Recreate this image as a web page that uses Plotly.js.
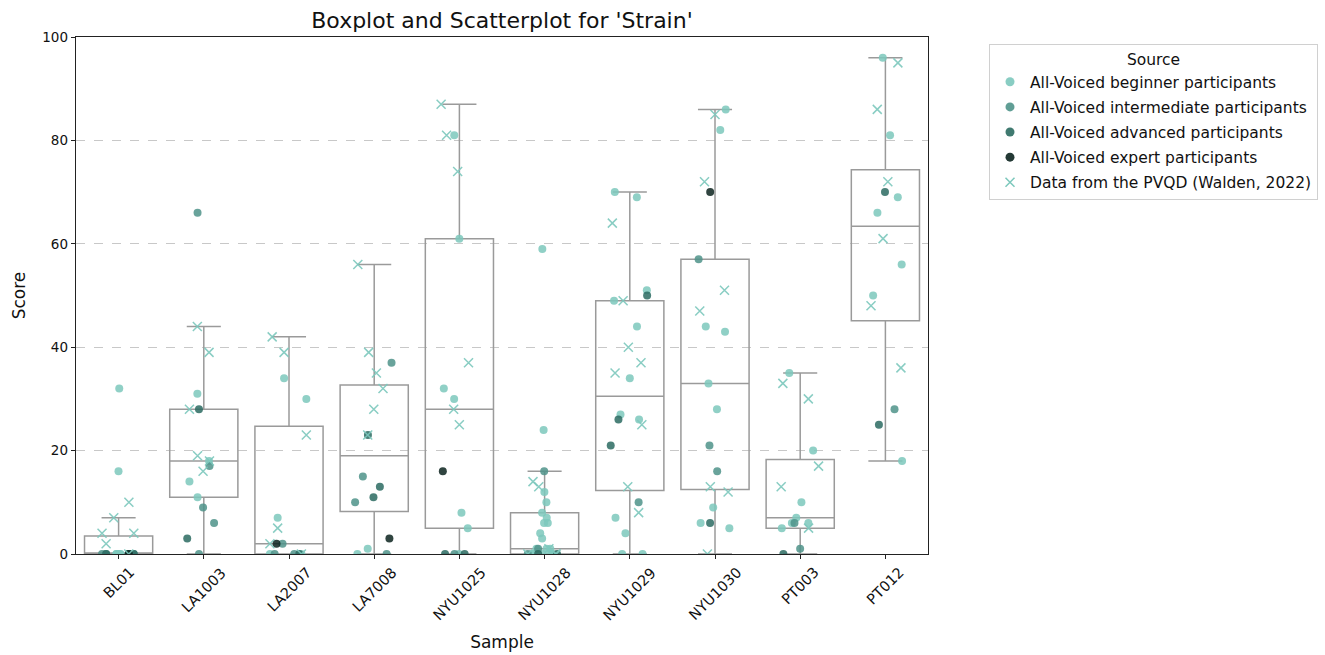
<!DOCTYPE html>
<html>
<head>
<meta charset="utf-8">
<script src="https://cdn.plot.ly/plotly-3.0.1.min.js"></script>
<style>html,body{margin:0;padding:0;background:#fff;}#chart{width:1325px;height:655px;}</style>
</head>
<body>
<div id="chart"></div>
<script>
// ---- data ----
const samples = ["BL01","LA1003","LA2007","LA7008","NYU1025","NYU1028","NYU1029","NYU1030","PT003","PT012"];

// one list of scores per sample, in the order of `samples`
const beginner = [
  [32,16,0,0,0,0,0,0],
  [31,18,14,11],
  [34,30,7,0,0],
  [1,0],
  [81,61,32,30,8,5,0],
  [59,24,12,10,8,7,6,6,4,3,1,1,1,0,0,0,0,0],
  [70,69,51,49,44,34,27,26,7,4,0,0],
  [86,82,44,43,33,28,9,6,5],
  [35,20,10,7,6,6,5],
  [96,81,69,66,56,50,18]
];
const intermediate = [
  [0,0,0,0],
  [66,17,9,6,0],
  [2,0,0],
  [37,15,10,0],
  [0],
  [16,1,0],
  [10],
  [57,21,16],
  [6,1],
  [28]
];
const advanced = [
  [0,0,0],
  [28,3],
  [0],
  [23,13,11],
  [0,0],
  [0,0],
  [50,26,21],
  [6],
  [0],
  [70,25]
];
const expert = [
  [0],
  [],
  [2],
  [3],
  [16],
  [],
  [],
  [70],
  [],
  []
];
const pvqd = [
  [10,7,4,4,2,0],
  [44,39,28,19,18,16],
  [42,39,23,5,2,0],
  [56,39,35,32,28,23],
  [87,81,74,37,28,25],
  [14,13,1,0,0,0],
  [64,49,40,37,35,25,13,8],
  [85,72,51,47,13,12,0],
  [33,30,17,13,5],
  [95,86,72,61,48,36]
];

// box statistics as drawn (over all scores of each sample)
const boxQ1     = [0, 11, 0, 8.2, 5, 0, 12.3, 12.5, 5, 45.1];
const boxMedian = [0, 18, 2, 19, 28, 1, 30.5, 33, 7, 63.4];
const boxQ3     = [3.5, 28, 24.7, 32.7, 61, 8, 49, 57, 18.3, 74.3];
const whiskLow  = [0, 0, 0, 0, 0, 0, 0, 0, 0, 18];
const whiskHigh = [7, 44, 42, 56, 87, 16, 70, 86, 35, 96];

const groupNames = [
  "All-Voiced beginner participants",
  "All-Voiced intermediate participants",
  "All-Voiced advanced participants",
  "All-Voiced expert participants",
  "Data from the PVQD (Walden, 2022)"
];

// ---- build traces ----
const groups = [beginner, intermediate, advanced, expert, pvqd];
const colors = ["#7cc8bc", "#4f938a", "#2b6b61", "#0c231f", "#7cc8bc"];
const symbols = ["circle", "circle", "circle", "circle", "x-thin-open"];
const FONT = "DejaVu Sans, Liberation Sans, sans-serif";

const traces = [];
traces.push({
  type: "box",
  x: samples,
  q1: boxQ1, median: boxMedian, q3: boxQ3,
  lowerfence: whiskLow, upperfence: whiskHigh,
  width: 0.8, whiskerwidth: 0.5,
  line: {color: "#9a9a9a", width: 1.5},
  fillcolor: "rgba(255,255,255,0)",
  showlegend: false, hoverinfo: "skip"
});

groups.forEach((g, gi) => {
  const xs = [], ys = [];
  g.forEach((vals, si) => vals.forEach(v => { xs.push(samples[si]); ys.push(v); }));
  const isX = gi === 4;
  traces.push({
    type: "box",
    x: xs, y: ys,
    name: groupNames[gi],
    boxpoints: "all", jitter: 1, pointpos: 0, width: 0.46,
    line: {width: 0, color: "rgba(0,0,0,0)"},
    fillcolor: "rgba(0,0,0,0)",
    marker: isX
      ? {symbol: symbols[gi], size: 9, color: colors[gi], opacity: 0.9, line: {width: 1.5, color: colors[gi]}}
      : {symbol: symbols[gi], size: 8, color: colors[gi], opacity: 0.85, line: {width: 0}},
    hoveron: "points",
    showlegend: false
  });
});

// legend entries
groups.forEach((g, gi) => {
  const isX = gi === 4;
  traces.push({
    type: "scatter", mode: "markers",
    x: [null], y: [null],
    name: groupNames[gi],
    legendgroup: "g" + gi,
    marker: isX
      ? {symbol: symbols[gi], size: 9, color: colors[gi], line: {width: 1.5, color: colors[gi]}}
      : {symbol: symbols[gi], size: 9, color: colors[gi], opacity: 0.9, line: {width: 0}},
    showlegend: true
  });
});

// rotated, centred sample labels
const annotations = samples.map(s => ({
  x: s, xref: "x", y: 0, yref: "paper",
  yshift: -8, xanchor: "center", yanchor: "top",
  text: s, textangle: -45, showarrow: false,
  font: {family: FONT, size: 14.5, color: "#111"}
}));

const layout = {
  width: 1325, height: 655,
  margin: {l: 76, r: 397, t: 37, b: 101, autoexpand: false},
  paper_bgcolor: "#fff", plot_bgcolor: "#fff",
  font: {family: FONT, color: "#111"},
  title: {
    text: "Boxplot and Scatterplot for 'Strain'",
    font: {family: FONT, size: 22, color: "#111"},
    x: 0.5, xref: "paper", xanchor: "center",
    y: 1 - 20/655, yref: "container", yanchor: "middle"
  },
  boxmode: "overlay",
  xaxis: {
    type: "category", categoryorder: "array", categoryarray: samples,
    range: [-0.5, 9.5],
    showticklabels: false,
    ticks: "outside", ticklen: 4, tickwidth: 1, tickcolor: "#222",
    showline: true, mirror: true, linecolor: "#222", linewidth: 1.3,
    showgrid: false, zeroline: false,
    title: {text: "Sample", font: {family: FONT, size: 17, color: "#111"}, standoff: 77}
  },
  yaxis: {
    range: [0, 100], tickvals: [0, 20, 40, 60, 80, 100],
    ticks: "outside", ticklen: 4, tickwidth: 1, tickcolor: "#222",
    tickfont: {family: FONT, size: 13.5, color: "#111"},
    showline: true, mirror: true, linecolor: "#222", linewidth: 1.3,
    showgrid: true, gridcolor: "#c8c8c8", griddash: "dash", gridwidth: 1,
    zeroline: false,
    title: {text: "Score", font: {family: FONT, size: 17, color: "#111"}, standoff: 12}
  },
  legend: {
    x: 989/1325, xref: "container", xanchor: "left",
    y: 1 - 44/655, yref: "container", yanchor: "top",
    bordercolor: "#d0d0d0", borderwidth: 1, bgcolor: "#fff",
    font: {family: FONT, size: 15.5, color: "#111"},
    title: {text: "Source", side: "top center", font: {family: FONT, size: 15.5, color: "#111"}},
    tracegroupgap: 2
  },
  annotations: annotations,
  showlegend: true
};

Plotly.newPlot("chart", traces, layout, {displayModeBar: false, staticPlot: true});
</script>
</body>
</html>
